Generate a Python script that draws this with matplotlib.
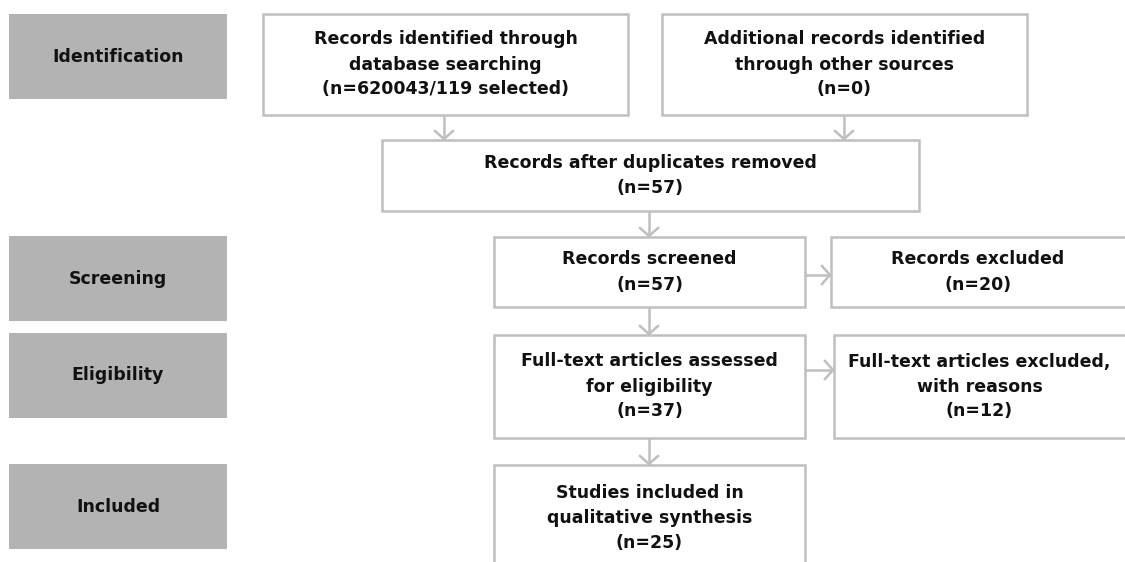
import matplotlib.pyplot as plt
from matplotlib.patches import Rectangle

# stage labels on the left
stages = ['Identification', 'Screening', 'Eligibility', 'Included']

# flow boxes: text and count
box_text = [
    'Records identified through\ndatabase searching',
    'Additional records identified\nthrough other sources',
    'Records after duplicates removed',
    'Records screened',
    'Records excluded',
    'Full-text articles assessed\nfor eligibility',
    'Full-text articles excluded,\nwith reasons',
    'Studies included in\nqualitative synthesis',
]
box_n = ['620043/119 selected', '0', '57', '57', '20', '37', '12', '25']

# layout in pixels (x0, y0, x1, y1)
stage_pos = [(9, 14, 227, 99), (9, 236, 227, 321), (9, 333, 227, 418), (9, 464, 227, 549)]
box_pos = [
    (263, 14, 628, 115),
    (662, 14, 1027, 115),
    (382, 140, 919, 211),
    (494, 237, 805, 307),
    (831, 237, 1135, 307),
    (494, 335, 805, 438),
    (834, 335, 1135, 438),
    (494, 465, 805, 575),
]
arrows = [
    (444, 115, 444, 140),
    (844, 115, 844, 140),
    (649, 211, 649, 237),
    (649, 307, 649, 335),
    (649, 438, 649, 465),
    (805, 275, 831, 275),
    (805, 370, 834, 370),
]

GRAY = '#b3b3b3'
LINE = '#bfbfbf'
FONT = dict(family='DejaVu Sans', weight='bold', size=12.5, color='#111111')

fig = plt.figure(figsize=(11.25, 5.62), dpi=100)
ax = fig.add_axes([0, 0, 1, 1])
ax.set_xlim(0, 1125)
ax.set_ylim(562, 0)
ax.axis('off')

for name, (x0, y0, x1, y1) in zip(stages, stage_pos):
    ax.add_patch(Rectangle((x0, y0), x1 - x0, y1 - y0, facecolor=GRAY, edgecolor='none'))
    ax.text((x0 + x1) / 2, (y0 + y1) / 2, name, ha='center', va='center', **FONT)

for txt, n, (x0, y0, x1, y1) in zip(box_text, box_n, box_pos):
    ax.add_patch(Rectangle((x0, y0), x1 - x0, y1 - y0, facecolor='white',
                           edgecolor=LINE, lw=1.8))
    xc = (x0 + min(x1, 1125)) / 2
    yc = (y0 + min(y1, 571)) / 2
    ax.text(xc, yc, txt + '\n(n=' + n + ')', ha='center', va='center',
            linespacing=1.5, **FONT)

h = 9  # chevron size
for x0, y0, x1, y1 in arrows:
    ax.plot([x0, x1], [y0, y1], color=LINE, lw=1.8, solid_capstyle='butt')
    if x0 == x1:
        ax.plot([x1 - h, x1, x1 + h], [y1 - h, y1 - 1, y1 - h], color=LINE, lw=1.8)
    else:
        ax.plot([x1 - h, x1 - 1, x1 - h], [y1 - h, y1, y1 + h], color=LINE, lw=1.8)

fig.savefig('out.png', dpi=100)
